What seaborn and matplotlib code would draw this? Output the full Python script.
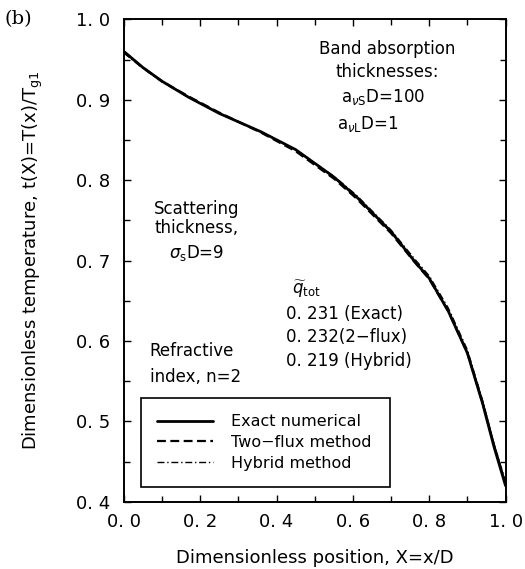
import numpy as np
import pandas as pd
import matplotlib
matplotlib.use("Agg")
import matplotlib.pyplot as plt
import seaborn as sns
from matplotlib.ticker import MultipleLocator, FuncFormatter

# ---- data ----
x_pos = [0.0, 0.05, 0.10, 0.17, 0.25, 0.36, 0.45, 0.55, 0.61, 0.70, 0.76, 0.80, 0.85, 0.90, 0.94, 0.97, 1.0]
t_exact = [0.960, 0.940, 0.923, 0.903, 0.883, 0.860, 0.838, 0.804, 0.779, 0.736, 0.700, 0.678, 0.637, 0.585, 0.522, 0.468, 0.420]
t_twoflux = [0.960, 0.940, 0.923, 0.904, 0.884, 0.859, 0.836, 0.802, 0.777, 0.734, 0.699, 0.677, 0.637, 0.585, 0.523, 0.470, 0.422]
t_hybrid = [0.958, 0.939, 0.922, 0.903, 0.883, 0.860, 0.838, 0.805, 0.781, 0.738, 0.703, 0.681, 0.641, 0.589, 0.526, 0.472, 0.425]
series_names = ["Exact numerical", "Two\u2212flux method", "Hybrid method"]
x_ticks = [0.0, 0.2, 0.4, 0.6, 0.8, 1.0]
y_ticks = [0.4, 0.5, 0.6, 0.7, 0.8, 0.9, 1.0]

df = pd.DataFrame({
    "x": x_pos * 3,
    "t": t_exact + t_twoflux + t_hybrid,
    "method": [series_names[0]] * len(x_pos) + [series_names[1]] * len(x_pos) + [series_names[2]] * len(x_pos),
})

sns.set_style("ticks")
plt.rcParams["font.family"] = ["DejaVu Sans"]
plt.rcParams["mathtext.fontset"] = "dejavusans"
plt.rcParams["text.color"] = "black"
plt.rcParams["axes.labelcolor"] = "black"
plt.rcParams["xtick.color"] = "black"
plt.rcParams["ytick.color"] = "black"

fig = plt.figure(figsize=(5.25, 5.69), dpi=100)
ax = fig.add_axes([0.236, 0.118, 0.727, 0.848])

styles = {series_names[0]: dict(ls="-", lw=2.0),
          series_names[1]: dict(ls=(0, (4, 2)), lw=1.6),
          series_names[2]: dict(ls=(0, (5, 2, 1, 2)), lw=1.0)}
for name in series_names:
    sub = df[df["method"] == name]
    sns.lineplot(data=sub, x="x", y="t", ax=ax, color="black", label=name,
                 linestyle=styles[name]["ls"], linewidth=styles[name]["lw"])

ax.set_xlim(0, 1.0)
ax.set_ylim(0.4, 1.0)
ax.set_xticks(x_ticks)
ax.set_yticks(y_ticks)
ax.xaxis.set_minor_locator(MultipleLocator(0.1))
ax.yaxis.set_minor_locator(MultipleLocator(0.05))
fmt = FuncFormatter(lambda v, p: f"{v:.1f}".replace(".", ". "))
ax.xaxis.set_major_formatter(fmt)
ax.yaxis.set_major_formatter(fmt)
ax.tick_params(which="both", direction="in", top=True, right=True, color="black", width=1.0)
ax.tick_params(which="major", length=5, labelsize=13, labelcolor="black")
ax.tick_params(axis="x", which="major", pad=8)
ax.tick_params(axis="y", which="major", pad=10)
ax.tick_params(which="minor", length=4)
for s in ax.spines.values():
    s.set_linewidth(1.4)
    s.set_color("black")

ax.set_xlabel("Dimensionless position, X=x/D", fontsize=13, labelpad=13, color="black")
ax.set_ylabel(r"Dimensionless temperature, t(X)=T(x)/T$_{\mathrm{g1}}$", fontsize=13,
              labelpad=22, color="black")

tk = dict(fontsize=12, color="black", ha="center", va="center")
ax.text(0.69, 0.963, "Band absorption", **tk)
ax.text(0.69, 0.934, "thicknesses:", **tk)
ax.text(0.68, 0.904, r"a$_{\nu \mathrm{S}}$D=100", **tk)
ax.text(0.64, 0.870, r"a$_{\nu \mathrm{L}}$D=1", **tk)

ax.text(0.19, 0.764, "Scattering", **tk)
ax.text(0.19, 0.740, "thickness,", **tk)
ax.text(0.19, 0.710, r"$\sigma_{\mathrm{s}}$D=9", **tk)

ax.text(0.068, 0.587, "Refractive", fontsize=12, ha="left", va="center", color="black")
ax.text(0.068, 0.555, "index, n=2", fontsize=12, ha="left", va="center", color="black")

ax.text(0.44, 0.664, r"$\widetilde{q}_{\mathrm{tot}}$", fontsize=12, ha="left", va="center", color="black")
ax.text(0.425, 0.634, "0. 231 (Exact)", fontsize=12, ha="left", va="center", color="black")
ax.text(0.425, 0.605, "0. 232(2\u2212flux)", fontsize=12, ha="left", va="center", color="black")
ax.text(0.425, 0.575, "0. 219 (Hybrid)", fontsize=12, ha="left", va="center", color="black")

leg = ax.legend(loc="lower left", bbox_to_anchor=(0.044, 0.03, 0.652, 0.19), mode="expand",
                fontsize=11.5, handlelength=3.5, frameon=True, fancybox=False,
                edgecolor="black", framealpha=1, borderpad=1.05, labelspacing=0.35,
                handletextpad=1.1, borderaxespad=0)
leg.get_frame().set_linewidth(1.2)
for t in leg.get_texts():
    t.set_color("black")

fig.text(0.008, 0.966, "(b)", fontsize=14, family="DejaVu Serif", ha="left", va="center", color="black")

fig.savefig("out.png", dpi=100)
